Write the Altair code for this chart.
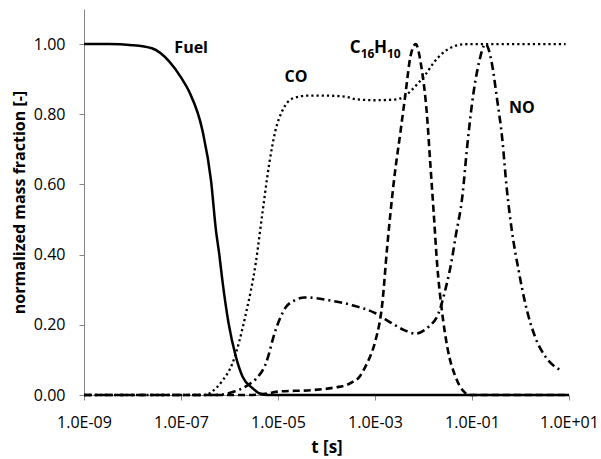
import altair as alt
import pandas as pd

# log10(t [s]) positions and normalized mass fractions
fuel_logt = [-9.0, -8.5, -8.0, -7.6, -7.24, -7.0, -6.83, -6.56, -6.38, -6.28, -6.21,
             -6.15, -6.02, -5.87, -5.73, -5.53, -5.39, -5.2, 1.0]
fuel_val = [1.0, 1.0, 0.997, 0.988, 0.95, 0.905, 0.864, 0.755, 0.61, 0.47, 0.40,
            0.33, 0.205, 0.11, 0.052, 0.02, 0.005, 0.0, 0.0]

co_logt = [-9.0, -6.5, -6.36, -6.15, -5.94, -5.66, -5.46, -5.32, -5.18, -5.05, -4.91, -4.70,
           -4.4, -4.0, -3.6, -3.4, -3.0, -2.6, -2.4, -2.25, -2.1, -1.95, -1.8, -1.6, -1.4,
           -1.2, -1.0, 0.93]
co_val = [0.0, 0.0, 0.01, 0.04, 0.09, 0.233, 0.375, 0.52, 0.66, 0.755, 0.81, 0.845,
          0.853, 0.853, 0.85, 0.843, 0.84, 0.842, 0.85, 0.868, 0.89, 0.915, 0.945, 0.975, 0.992,
          0.999, 1.0, 1.0]

pah_logt = [-9.0, -5.6, -5.2, -4.98, -4.29, -3.8, -3.6, -3.45, -3.33, -3.2, -3.1, -2.99,
            -2.85, -2.75, -2.61, -2.47, -2.37, -2.27, -2.16, -2.05, -1.93, -1.86, -1.79,
            -1.72, -1.62, -1.5, -1.34, -1.17, -1.05, 1.0]
pah_val = [0.0, 0.0, 0.005, 0.01, 0.014, 0.022, 0.028, 0.038, 0.05, 0.08, 0.11, 0.155,
           0.26, 0.42, 0.61, 0.755, 0.86, 0.964, 1.0, 0.94, 0.80, 0.66, 0.52,
           0.375, 0.24, 0.13, 0.052, 0.01, 0.0, 0.0]

no_logt = [-9.0, -6.3, -5.9, -5.6, -5.46, -5.25, -5.05, -4.84, -4.65, -4.45, -4.22, -3.95,
           -3.47, -2.99, -2.65, -2.4, -2.16, -1.98, -1.89, -1.69, -1.55, -1.41, -1.34, -1.2,
           -1.1, -1.0, -0.86, -0.72, -0.59, -0.49, -0.38, -0.28, -0.18, -0.04, 0.10, 0.30,
           0.51, 0.82]
no_val = [0.0, 0.0, 0.01, 0.03, 0.045, 0.09, 0.185, 0.25, 0.27, 0.278, 0.276, 0.27,
          0.256, 0.233, 0.204, 0.185, 0.175, 0.185, 0.195, 0.233, 0.30, 0.39, 0.45, 0.565,
          0.707, 0.83, 0.945, 1.0, 0.945, 0.85, 0.735, 0.584, 0.47, 0.356, 0.26, 0.166,
          0.11, 0.071]

x_ticks = [1e-9, 1e-7, 1e-5, 1e-3, 1e-1, 1e1]
y_ticks = [0.0, 0.2, 0.4, 0.6, 0.8, 1.0]

# series labels: text, log10(t), value, font size, align
label_text = ["Fuel", "CO", "NO", "C", "16", "H", "10"]
label_logt = [-6.79, -4.63, 0.03, -3.523, -3.296, -3.023, -2.755]
label_val = [0.975, 0.892, 0.803, 0.974, 0.960, 0.974, 0.960]
label_size = [16, 16, 16, 17, 12, 17, 12]
label_align = ["center", "center", "center", "left", "left", "left", "left"]

FONT = "Open Sans"
GREY = "#868686"


def frame(logt, val):
    return pd.DataFrame({"t": [10 ** v for v in logt], "value": val})


exp_expr = "abs(round(log(datum.value)/LN10))"
label_expr = ("'1.0E' + (datum.value < 1 ? '-' : '+') + (" + exp_expr +
              " < 10 ? '0' : '') + " + exp_expr)

x_enc = alt.X("t:Q",
              scale=alt.Scale(type="log", domain=[1e-9, 1e1], nice=False),
              axis=alt.Axis(values=x_ticks, labelExpr=label_expr, title="t [s]",
                            grid=False, domainColor=GREY, tickColor=GREY, tickSize=5,
                            labelPadding=14, titlePadding=9, titleFontSize=17,
                            labelFlush=False))
y_enc = alt.Y("value:Q",
              scale=alt.Scale(domain=[0, 1.1], nice=False),
              axis=alt.Axis(values=y_ticks, format=".2f", title="normalized mass fraction [-]",
                            grid=False, domainColor=GREY, tickColor=GREY, tickSize=5,
                            labelPadding=14, titlePadding=6, titleFontSize=16))


def line(logt, val, dash, width):
    kw = dict(interpolate="monotone", color="black", strokeWidth=width)
    if dash:
        kw["strokeDash"] = dash
    return alt.Chart(frame(logt, val)).mark_line(**kw).encode(x=x_enc, y=y_enc)


fuel = line(fuel_logt, fuel_val, None, 2.5)
co = line(co_logt, co_val, [2.2, 3], 2.3)
pah = line(pah_logt, pah_val, [7, 4], 2.6)
no = line(no_logt, no_val, [8, 4, 2, 4], 2.6)

labels_df = pd.DataFrame({
    "text": label_text,
    "t": [10 ** v for v in label_logt],
    "value": label_val,
    "size": label_size,
    "align": label_align,
})

texts = []
for align in ["center", "left"]:
    texts.append(
        alt.Chart(labels_df[labels_df["align"] == align]).mark_text(
            align=align, baseline="alphabetic", font=FONT, fontWeight="bold", color="black"
        ).encode(x=x_enc, y=y_enc, text="text:N",
                 size=alt.Size("size:Q", scale=None, legend=None))
    )

chart = alt.layer(co, pah, no, fuel, *texts).properties(
    width=485, height=386,
    padding={"left": 84, "top": 9, "right": 32, "bottom": 64},
    autosize=alt.AutoSizeParams(type="none"),
    background="white",
).configure_view(stroke=None).configure_axis(
    labelFont=FONT, titleFont=FONT, labelFontSize=16,
    labelColor="black", titleColor="black", titleFontWeight="bold",
)

chart.save("out.html", embed_options={"renderer": "svg", "actions": False})
